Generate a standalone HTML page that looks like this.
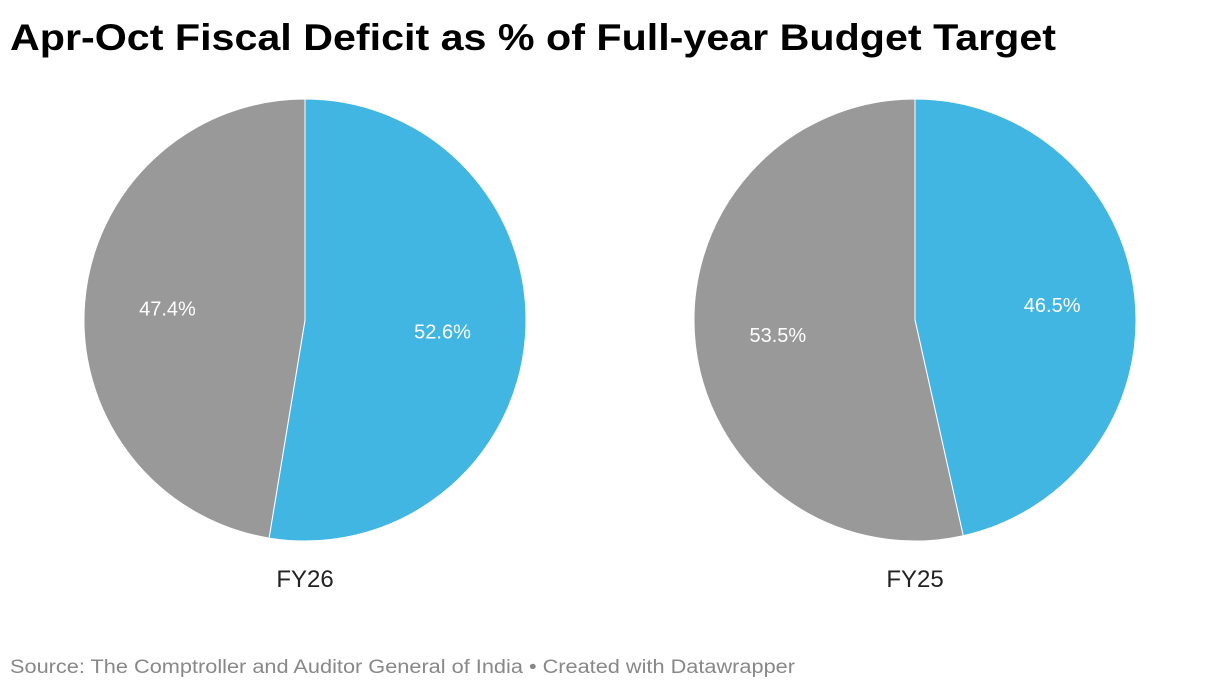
<!DOCTYPE html>
<html><head><meta charset="utf-8"><style>
html,body{margin:0;padding:0;background:#fff;width:1220px;height:690px;overflow:hidden}
svg{display:block;font-family:"Liberation Sans",sans-serif}
</style></head><body>
<svg id="chart" width="1220" height="690" viewBox="0 0 1220 690">
<text x="10" y="50" font-size="37" font-weight="bold" fill="#000" textLength="1046" lengthAdjust="spacingAndGlyphs">Apr-Oct Fiscal Deficit as % of Full-year Budget Target</text>
<g id="pies"></g>
<text x="10" y="673" font-size="19" fill="#888" textLength="785" lengthAdjust="spacingAndGlyphs">Source: The Comptroller and Auditor General of India • Created with Datawrapper</text>
</svg>
<script>
const categories = ["FY26","FY25"];
const blueValues = [52.6,46.5];
const greyValues = [47.4,53.5];
const valueLabels = [["52.6%","47.4%"],["46.5%","53.5%"]];
const NS="http://www.w3.org/2000/svg";
const g=document.getElementById('pies');
const centersX=[305,915], cy=320, R=221, LR=138;
function pt(cx,a,r){return [cx+r*Math.sin(a), cy-r*Math.cos(a)];}
categories.forEach((cat,i)=>{
  const cx=centersX[i];
  const vals=[blueValues[i],greyValues[i]];
  const total=vals[0]+vals[1];
  const colors=["#41b6e3","#999999"];
  let start=0;
  vals.forEach((v,j)=>{
    const ang=v/total*2*Math.PI;
    const end=start+ang;
    const [x1,y1]=pt(cx,start,R),[x2,y2]=pt(cx,end,R);
    const p=document.createElementNS(NS,'path');
    p.setAttribute('d',`M${cx},${cy} L${x1},${y1} A${R},${R} 0 ${ang>Math.PI?1:0} 1 ${x2},${y2} Z`);
    p.setAttribute('fill',colors[j]);
    p.setAttribute('stroke','#fff');
    p.setAttribute('stroke-width','1');
    
    
    g.appendChild(p);
    const [lx,ly]=pt(cx,start+ang/2,LR);
    const t=document.createElementNS(NS,'text');
    t.setAttribute('x',lx);t.setAttribute('y',ly+7);
    t.setAttribute('text-anchor','middle');t.setAttribute('font-size','20');t.setAttribute('fill','#fff');
    
    
    t.textContent=valueLabels[i][j];
    g.appendChild(t);
    start=end;
  });
  const c=document.createElementNS(NS,'text');
  c.setAttribute('x',cx);c.setAttribute('y',587);
  c.setAttribute('text-anchor','middle');c.setAttribute('font-size','24');c.setAttribute('fill','#222');
  
  
  c.textContent=cat;
  g.appendChild(c);
});
</script>
</body></html>
